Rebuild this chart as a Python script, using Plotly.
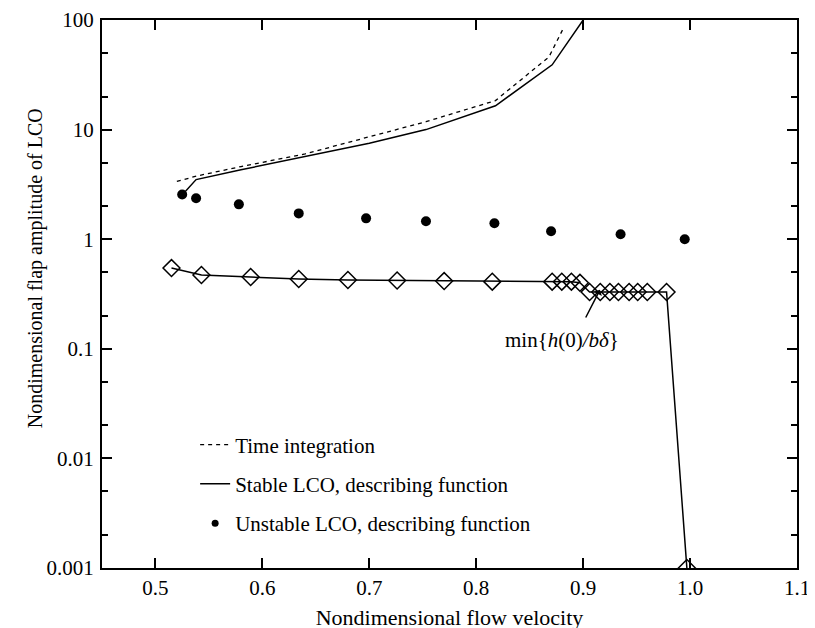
import numpy as np
import plotly.graph_objects as go

# ---- data ----
time_x = [0.520, 0.540, 0.580, 0.640, 0.700, 0.753, 0.818, 0.868, 0.882]
time_y = [3.37, 3.8, 4.6, 6.0, 8.6, 11.8, 18.4, 46, 86]

stable_up_x = [0.526, 0.538, 0.580, 0.700, 0.753, 0.818, 0.871, 0.900]
stable_up_y = [2.6, 3.5, 4.3, 7.5, 10.0, 16.5, 39, 100]

unstable_x = [0.525, 0.538, 0.578, 0.634, 0.697, 0.753, 0.817, 0.870, 0.935, 0.995]
unstable_y = [2.56, 2.36, 2.08, 1.72, 1.55, 1.46, 1.40, 1.18, 1.11, 1.0]

stable_low_x = [0.515, 0.543, 0.589, 0.634, 0.680, 0.726, 0.770, 0.815, 0.871, 0.880,
                0.889, 0.897, 0.906, 0.916, 0.925, 0.933, 0.943, 0.951, 0.960, 0.978, 0.997]
stable_low_y = [0.545, 0.471, 0.452, 0.433, 0.424, 0.42, 0.415, 0.41, 0.41, 0.41,
                0.41, 0.40, 0.33, 0.33, 0.33, 0.33, 0.33, 0.33, 0.33, 0.33, 0.001]

x_ticks = [0.5, 0.6, 0.7, 0.8, 0.9, 1.0, 1.1]
x_ticktext = ["0.5", "0.6", "0.7", "0.8", "0.9", "1.0", "1.1"]
y_ticks = [0.001, 0.01, 0.1, 1, 10, 100]
y_ticktext = ["0.001", "0.01", "0.1", "1", "10", "100"]
y_minor = [v * m for v in [0.001, 0.01, 0.1, 1, 10] for m in (2, 5)]

FONT = "Liberation Serif"
FS = 21

fig = go.Figure()
fig.add_trace(go.Scatter(x=time_x, y=time_y, mode="lines", name="Time integration",
                         line=dict(color="black", width=1.3, dash="4px,4px"),
                         legendgroup="a"))
fig.add_trace(go.Scatter(x=stable_up_x, y=stable_up_y, mode="lines",
                         name="Stable LCO, describing function",
                         line=dict(color="black", width=1.5), legendgroup="b"))
fig.add_trace(go.Scatter(x=unstable_x, y=unstable_y, mode="markers",
                         name="Unstable LCO, describing function", showlegend=False,
                         marker=dict(color="black", size=10), legendgroup="c"))
# legend proxy for the unstable points (smaller dot in the legend)
fig.add_trace(go.Scatter(x=[None], y=[None], mode="markers",
                         name="Unstable LCO, describing function",
                         marker=dict(color="black", size=7), legendgroup="c"))
fig.add_trace(go.Scatter(x=stable_low_x, y=stable_low_y, mode="lines+markers",
                         showlegend=False,
                         line=dict(color="black", width=1.5),
                         marker=dict(symbol="diamond-open", size=13, color="black",
                                     line=dict(width=1.5, color="black"))))

axis_common = dict(showline=True, linecolor="black", linewidth=2, mirror="allticks",
                   ticks="inside", ticklen=10, tickwidth=1.5, tickcolor="black",
                   showgrid=False, zeroline=False, automargin=False,
                   ticklabeloverflow="allow",
                   tickfont=dict(family=FONT, size=FS, color="black"))

fig.update_xaxes(range=[0.45, 1.1], tickvals=x_ticks, ticktext=x_ticktext,
                 title=dict(text="Nondimensional flow velocity",
                            font=dict(family=FONT, size=22, color="black")),
                 **axis_common)
fig.update_yaxes(type="log", range=[-3, 2], tickvals=y_ticks, ticktext=y_ticktext,
                 ticklabelstandoff=2,
                 minor=dict(tickvals=y_minor, ticks="inside", ticklen=6, tickwidth=1.5,
                            tickcolor="black"),
                 **axis_common)

# y-axis title (placed as in the reference, slightly above the plot centre)
fig.add_annotation(x=-0.0964, y=0.547, xref="paper", yref="paper",
                   text="Nondimensional flap amplitude of LCO", textangle=-90,
                   showarrow=False, xanchor="center", yanchor="middle",
                   font=dict(family=FONT, size=20, color="black"))

# annotation arrow + text
fig.add_annotation(x=0.9157, y=np.log10(0.345), ax=0.9017, ay=np.log10(0.187),
                   axref="x", ayref="y", xref="x", yref="y", text="",
                   showarrow=True, arrowhead=1, arrowsize=1, arrowwidth=1.5,
                   arrowcolor="black")
fig.add_annotation(x=0.880, y=-0.918, xref="x", yref="y",
                   text="min{<i>h</i>(0)<i>/bδ</i>}", showarrow=False,
                   font=dict(family=FONT, size=FS, color="black"))

fig.update_layout(
    width=807, height=622,
    margin=dict(l=94, r=18, t=12, b=62),
    plot_bgcolor="white", paper_bgcolor="white",
    font=dict(family=FONT, size=FS, color="black"),
    legend=dict(x=0.134, y=0.262, xanchor="left", yanchor="top",
                bgcolor="rgba(0,0,0,0)", traceorder="grouped", tracegroupgap=9,
                font=dict(family=FONT, size=FS, color="black")),
)

fig.write_html("out.html")
